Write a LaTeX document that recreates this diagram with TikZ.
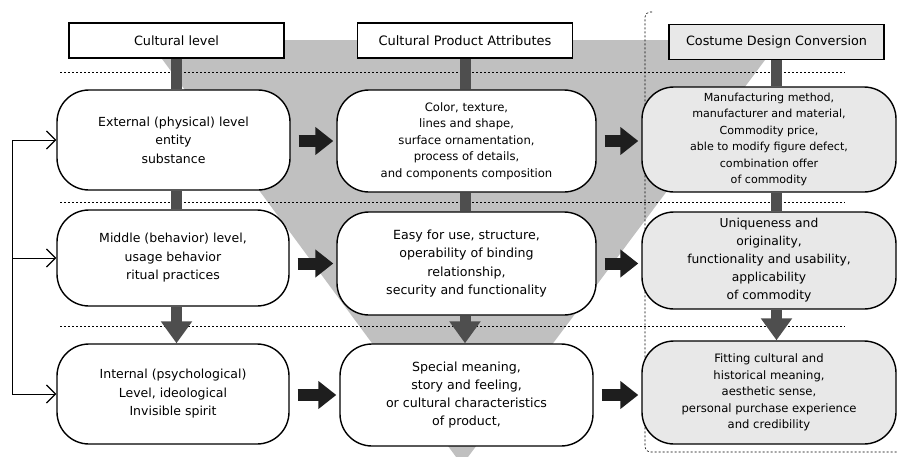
\documentclass[tikz,border=0pt]{standalone}
\usepackage{fontspec}
\setmainfont{DejaVu Sans}
\usepackage{xcolor}
\usetikzlibrary{arrows.meta}

\definecolor{funnelgray}{RGB}{192,192,192}
\definecolor{bargray}{RGB}{78,78,78}
\definecolor{boxgray}{RGB}{232,232,232}
\definecolor{arrowblack}{RGB}{30,30,30}

\newcommand{\fs}[2]{\fontsize{#1}{#2}\selectfont}

\begin{document}
\begin{tikzpicture}[x=1pt, y=-1pt,
    header/.style={draw, line width=1.6pt, fill=white, inner sep=0pt,
      minimum width=215pt, minimum height=35pt, font=\fs{12.8}{14}},
    box/.style={draw, line width=1.4pt, fill=white, rounded corners=32pt,
      inner sep=0pt, align=center, font=\fs{12.5}{18.5}},
    sep/.style={line width=0.6pt, dash pattern=on 2pt off 2pt},
    bar/.style={line width=11pt, bargray},
    drop/.style={line width=11pt, bargray, -{Triangle[length=22pt,width=30pt]}},
    fat/.style={line width=12pt, arrowblack, shorten <=8pt, shorten >=3pt,
      -{Triangle[length=18pt,width=27pt]}},
    back/.style={line width=1pt, -{Straight Barb[length=9pt,width=18pt,line width=1.2pt]}}]
\useasboundingbox (0,0) rectangle (897,456);

% funnel behind the boxes
\fill[funnelgray] (148,40) -- (780,40) -- (462,465) -- cycle;

% level separators and the frame of the last column
\foreach \y in {72,202,326}
  \draw[sep] (60,\y) -- (845,\y);
\draw[sep, rounded corners=5pt] (652,12) -- (645,12) -- (645,452) -- (905,452);

% column heads
\node[header] (h1) at (176.5,40.5) {Cultural level};
\node[header, font=\fs{13}{14}] (h2) at (465,40.5) {Cultural Product Attributes};
\node[header, fill=boxgray] (h3) at (776.5,42) {Costume Design Conversion};

% cultural levels
\node[box, minimum width=233pt, minimum height=100pt] (a1) at (173.5,140)
  {External (physical) level\\entity\\substance};
\node[box, minimum width=232pt, minimum height=96pt] (a2) at (173,258)
  {Middle (behavior) level,\\usage behavior\\ritual practices};
\node[box, minimum width=232pt, minimum height=100pt] (a3) at (173,394)
  {Internal (psychological)\\Level, ideological\\Invisible spirit};

% product attributes
\node[box, minimum width=259pt, minimum height=102pt, font=\fs{11.6}{16.5}] (b1) at (466.5,141)
  {Color, texture,\\lines and shape,\\surface ornamentation,\\process of details,\\and components composition};
\node[box, minimum width=259pt, minimum height=103pt, font=\fs{12.6}{18.5}] (b2) at (466.5,263.5)
  {Easy for use, structure,\\operability of binding\\relationship,\\security and functionality};
\node[box, minimum width=253pt, minimum height=102pt, font=\fs{12.6}{17.7}] (b3) at (466.5,395)
  {Special meaning,\\story and feeling,\\or cultural characteristics\\of product,};

% design conversion
\tikzset{conv/.style={box, fill=boxgray, minimum width=254pt}}
\node[conv, minimum height=105pt, font=\fs{11.1}{16.4}] (c1) at (769,139.5)
  {Manufacturing method,\\manufacturer and material,\\Commodity price,\\able to modify figure defect,\\combination offer\\of commodity};
\node[conv, minimum height=97pt, font=\fs{12.3}{18}] (c2) at (769,260.5)
  {Uniqueness and\\originality,\\functionality and usability,\\applicability\\of commodity};
\node[conv, minimum height=103pt, font=\fs{11.6}{16.5}] (c3) at (769,392.5)
  {Fitting cultural and\\historical meaning,\\aesthetic sense,\\personal purchase experience\\and credibility};

% vertical links down each column
\foreach \h/\t/\u/\v in {h1/a1/a2/a3, h2/b1/b2/b3, h3/c1/c2/c3} {
  \draw[bar] (\h.south) -- (\h.south |- \t.north);
  \draw[bar] (\h.south |- \t.south) -- (\h.south |- \u.north);
  \draw[drop] (\h.south |- \u.south) -- (\h.south |- \v.north);
}

% arrows across the rows
\foreach \p/\q in {a1/b1, a2/b2, a3/b3}
  \draw[fat] (\q.west -| \p.east) -- (\q.west);
\foreach \p/\q in {b1/c1, b2/c2, b3/c3}
  \draw[fat] (\p.east) -- (\p.east -| \q.west);

% feedback line on the left
\coordinate (fb) at (12,0);
\draw[back] (fb |- a3.west) -- (fb |- a1.west) -- (a1.west);
\draw[back] (fb |- a2.west) -- (a2.west);
\draw[back] (fb |- a3.west) -- (a3.west);
\end{tikzpicture}
\end{document}
